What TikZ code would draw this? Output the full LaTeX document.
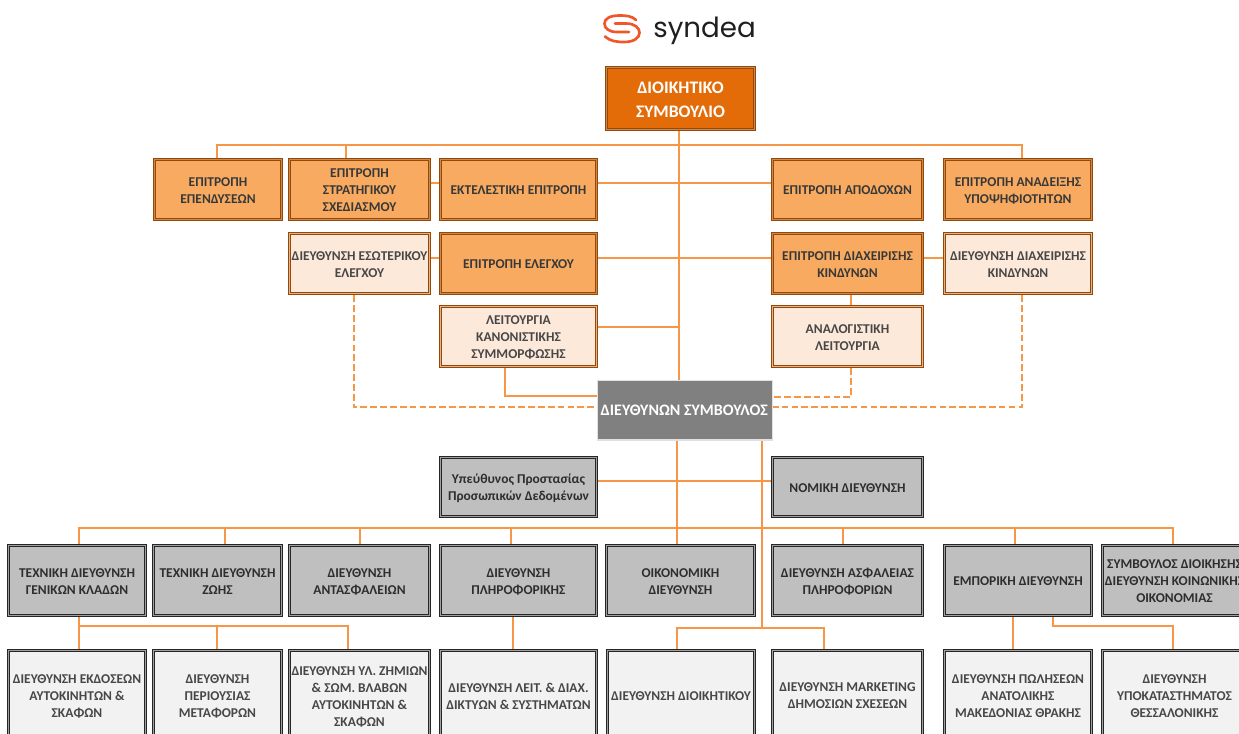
\documentclass[tikz,border=0pt]{standalone}
\usepackage{fontspec}
\setmainfont{Carlito}
\newfontfamily\logofont{Poppins}
\definecolor{conn}{HTML}{F79646}
\definecolor{boardfill}{HTML}{E36C09}
\definecolor{commfill}{HTML}{F8AB60}
\definecolor{lightfill}{HTML}{FDE9D9}
\definecolor{brownb}{HTML}{984806}
\definecolor{brownm}{HTML}{C98A50}
\definecolor{brownl}{HTML}{E0B48C}
\definecolor{grayfill}{HTML}{BFBFBF}
\definecolor{palefill}{HTML}{F2F2F2}
\definecolor{darkb}{HTML}{262626}
\definecolor{darkm}{HTML}{A0A0A0}
\definecolor{ceofill}{HTML}{808080}
\definecolor{logoor}{HTML}{F0562A}
\pgfdeclarelayer{under}
\pgfsetlayers{under,main}
\tikzset{
  x=0.75pt,y=-0.75pt,
  boxbase/.style={rectangle,inner sep=0pt,align=center,font=\fontsize{10.1}{12.75}\selectfont\bfseries},
  comm/.style={boxbase,text=black!78},
  comm o/.style={fill=brownb}, comm m/.style={fill=brownm}, comm i/.style={fill=commfill},
  lite/.style={boxbase,text=black!72},
  lite o/.style={fill=brownb}, lite m/.style={fill=brownl}, lite i/.style={fill=lightfill},
  grayb/.style={boxbase,text=black!82},
  grayb o/.style={fill=darkb}, grayb m/.style={fill=darkm}, grayb i/.style={fill=grayfill},
  pale/.style={boxbase,text=black!72},
  pale o/.style={fill=darkb}, pale m/.style={fill=darkm}, pale i/.style={fill=palefill},
  boardb/.style={boxbase,text=white,font=\fontsize{13.2}{18}\selectfont\bfseries},
  boardb o/.style={fill=brownb}, boardb m/.style={fill=brownm}, boardb i/.style={fill=boardfill},
  ceob/.style={rectangle,inner sep=0pt,align=center,text=white,font=\fontsize{12}{13}\selectfont\bfseries},
  link/.style={draw=conn,line width=1.3pt,line cap=rect},
  dlink/.style={draw=conn,line width=1.3pt,dash pattern=on 5pt off 2.4pt},
}
% style, name, x1, y1, x2, y2, text: three nested fills form the double border
\newcommand{\bx}[7]{%
  \fill[#1 o] ({#3-1},{#4-1}) rectangle ({#5+1},{#6+1});
  \fill[#1 m] ({#3},{#4}) rectangle ({#5},{#6});
  \fill[#1 o] ({#3+0.8},{#4+0.8}) rectangle ({#5-0.8},{#6-0.8});
  \fill[#1 i] ({#3+1.8},{#4+1.8}) rectangle ({#5-1.8},{#6-1.8});
  \node[#1,minimum width={(#5-#3)*0.75pt},minimum height={(#6-#4)*0.75pt}] (#2) at ({(#3+#5)/2},{(#4+#6)/2+1}) {#7};}
\begin{document}
\begin{tikzpicture}
\useasboundingbox (0,0) rectangle (1239,734);
\clip (0,0) rectangle (1239,734);
% named routing coordinates
\coordinate (trunk) at (679,0);
\coordinate (ceoL) at (677.3,0);
\coordinate (ceoR) at (761.7,0);
\coordinate (topbus) at (0,145);
\coordinate (lowbus) at (0,527.7);
\coordinate (busB) at (0,628);
\coordinate (xa) at (217,0);
\coordinate (xb) at (345.7,0);
\coordinate (xc) at (1021.7,0);
\coordinate (xd) at (354,0);
\coordinate (xe) at (505,0);
\coordinate (xf) at (851.2,0);
\coordinate (yf) at (0,396.7);
\coordinate (yd) at (0,407.3);
\coordinate (ye) at (0,395.7);
\coordinate (y1) at (0,183.2);
\coordinate (y2) at (0,258);
\coordinate (y3) at (0,327);
\coordinate (y4) at (0,481);
% boxes
\bx{boardb}{board}{606}{67}{755}{130}{ΔΙΟΙΚΗΤΙΚΟ\\ΣΥΜΒΟΥΛΙΟ}
\bx{comm}{inv}{154}{159}{282}{220}{ΕΠΙΤΡΟΠΗ\\ΕΠΕΝΔΥΣΕΩΝ}
\bx{comm}{strat}{289}{159}{430}{220}{ΕΠΙΤΡΟΠΗ\\ΣΤΡΑΤΗΓΙΚΟΥ\\ΣΧΕΔΙΑΣΜΟΥ}
\bx{comm}{exec}{440}{159}{597}{220}{ΕΚΤΕΛΕΣΤΙΚΗ ΕΠΙΤΡΟΠΗ}
\bx{comm}{pay}{772}{159}{923}{220}{ΕΠΙΤΡΟΠΗ ΑΠΟΔΟΧΩΝ}
\bx{comm}{nom}{944}{159}{1092}{220}{ΕΠΙΤΡΟΠΗ ΑΝΑΔΕΙΞΗΣ\\ΥΠΟΨΗΦΙΟΤΗΤΩΝ}
\bx{lite}{iaudit}{289}{233}{430}{294}{ΔΙΕΥΘΥΝΣΗ ΕΣΩΤΕΡΙΚΟΥ\\ΕΛΕΓΧΟΥ}
\bx{comm}{audit}{440}{233}{597}{294}{ΕΠΙΤΡΟΠΗ ΕΛΕΓΧΟΥ}
\bx{comm}{risk}{772}{233}{923}{294}{ΕΠΙΤΡΟΠΗ ΔΙΑΧΕΙΡΙΣΗΣ\\ΚΙΝΔΥΝΩΝ}
\bx{lite}{riskd}{944}{233}{1092}{294}{ΔΙΕΥΘΥΝΣΗ ΔΙΑΧΕΙΡΙΣΗΣ\\ΚΙΝΔΥΝΩΝ}
\bx{lite}{compl}{440}{306}{597}{367}{ΛΕΙΤΟΥΡΓΙΑ\\ΚΑΝΟΝΙΣΤΙΚΗΣ\\ΣΥΜΜΟΡΦΩΣΗΣ}
\bx{lite}{actu}{772}{306}{923}{367}{ΑΝΑΛΟΓΙΣΤΙΚΗ\\ΛΕΙΤΟΥΡΓΙΑ}
\fill[black!12] (596.5,379.5) rectangle (773,440.5);
\fill[ceofill] (598,381) rectangle (771.5,439);
\node[ceob,minimum width={174*0.75pt},minimum height={58*0.75pt}] (ceo) at (684.3,410.5) {ΔΙΕΥΘΥΝΩΝ ΣΥΜΒΟΥΛΟΣ};
\bx{grayb}{dpo}{440}{457}{597}{517}{Υπεύθυνος Προστασίας\\Προσωπικών Δεδομένων}
\bx{grayb}{legal}{772}{457}{923}{517}{ΝΟΜΙΚΗ ΔΙΕΥΘΥΝΣΗ}
% third level
\bx{grayb}{gen}{8}{545}{146}{616}{ΤΕΧΝΙΚΗ ΔΙΕΥΘΥΝΣΗ\\ΓΕΝΙΚΩΝ ΚΛΑΔΩΝ}
\bx{grayb}{life}{153}{545}{282}{616}{ΤΕΧΝΙΚΗ ΔΙΕΥΘΥΝΣΗ\\ΖΩΗΣ}
\bx{grayb}{reins}{289}{545}{430}{616}{ΔΙΕΥΘΥΝΣΗ\\ΑΝΤΑΣΦΑΛΕΙΩΝ}
\bx{grayb}{it}{440}{545}{597}{616}{ΔΙΕΥΘΥΝΣΗ\\ΠΛΗΡΟΦΟΡΙΚΗΣ}
\bx{grayb}{fin}{606}{545}{755}{616}{ΟΙΚΟΝΟΜΙΚΗ\\ΔΙΕΥΘΥΝΣΗ}
\bx{grayb}{sec}{772}{545}{923}{616}{ΔΙΕΥΘΥΝΣΗ ΑΣΦΑΛΕΙΑΣ\\ΠΛΗΡΟΦΟΡΙΩΝ}
\bx{grayb}{com}{944}{545}{1092}{616}{ΕΜΠΟΡΙΚΗ ΔΙΕΥΘΥΝΣΗ}
\bx{grayb}{adv}{1102}{545}{1247}{616}{ΣΥΜΒΟΥΛΟΣ ΔΙΟΙΚΗΣΗΣ\\ΔΙΕΥΘΥΝΣΗ ΚΟΙΝΩΝΙΚΗΣ\\ΟΙΚΟΝΟΜΙΑΣ}
% fourth level
\bx{pale}{auto}{8}{650}{146}{740}{ΔΙΕΥΘΥΝΣΗ ΕΚΔΟΣΕΩΝ\\ΑΥΤΟΚΙΝΗΤΩΝ \&\\ΣΚΑΦΩΝ}
\bx{pale}{prop}{153}{650}{282}{740}{ΔΙΕΥΘΥΝΣΗ\\ΠΕΡΙΟΥΣΙΑΣ\\ΜΕΤΑΦΟΡΩΝ}
\bx{pale}{claims}{289}{650}{430}{742}{ΔΙΕΥΘΥΝΣΗ ΥΛ. ΖΗΜΙΩΝ\\\& ΣΩΜ. ΒΛΑΒΩΝ\\ΑΥΤΟΚΙΝΗΤΩΝ \&\\ΣΚΑΦΩΝ}
\bx{pale}{net}{440}{650}{597}{740}{ΔΙΕΥΘΥΝΣΗ ΛΕΙΤ. \& ΔΙΑΧ.\\ΔΙΚΤΥΩΝ \& ΣΥΣΤΗΜΑΤΩΝ}
\bx{pale}{admin}{607}{650}{755}{740}{ΔΙΕΥΘΥΝΣΗ ΔΙΟΙΚΗΤΙΚΟΥ}
\bx{pale}{mkt}{772}{650}{923}{740}{ΔΙΕΥΘΥΝΣΗ MARKETING\\ΔΗΜΟΣΙΩΝ ΣΧΕΣΕΩΝ}
\bx{pale}{sales}{944}{650}{1092}{740}{ΔΙΕΥΘΥΝΣΗ ΠΩΛΗΣΕΩΝ\\ΑΝΑΤΟΛΙΚΗΣ\\ΜΑΚΕΔΟΝΙΑΣ ΘΡΑΚΗΣ}
\bx{pale}{branch}{1102}{650}{1247}{740}{ΔΙΕΥΘΥΝΣΗ\\ΥΠΟΚΑΤΑΣΤΗΜΑΤΟΣ\\ΘΕΣΣΑΛΟΝΙΚΗΣ}
% lower routing coordinates
\coordinate (x1) at (78.7,0);
\coordinate (x2) at (225,0);
\coordinate (x3) at (359.7,0);
\coordinate (x4) at (511,0);
\coordinate (x6) at (843,0);
\coordinate (x7) at (1015,0);
\coordinate (x8) at (1172.7,0);
\coordinate (x9) at (216.7,0);
\coordinate (x10) at (348,0);
\coordinate (x11) at (513,0);
\coordinate (x12) at (824,0);
\coordinate (x13) at (1013.2,0);
\coordinate (x14) at (1053,0);
\coordinate (ybl) at (0,625.7);
% connectors, beneath the boxes
\begin{pgfonlayer}{under}
\draw[link] (board.south -| trunk) -- (ceo.north -| trunk);
\draw[link] (inv.north -| xa) -- (topbus -| xa) -- (topbus -| xc) -- (nom.north -| xc);
\draw[link] (strat.north -| xb) -- (topbus -| xb);
\draw[link] (strat.east |- y1) -- (exec.west |- y1);
\draw[link] (exec.east |- y1) -- (pay.west |- y1);
\draw[link] (iaudit.east |- y2) -- (audit.west |- y2);
\draw[link] (audit.east |- y2) -- (risk.west |- y2);
\draw[link] (risk.east |- y2) -- (riskd.west |- y2);
\draw[link] (compl.east |- y3) -- (y3 -| trunk);
\draw[link] (risk.south -| xf) -- (actu.north -| xf);
\draw[link] (compl.south -| xe) -- (ye -| xe) -- (ceo.west |- ye);
\draw[dlink] (iaudit.south -| xd) -- (yd -| xd) -- (ceo.west |- yd);
\draw[dlink] (actu.south -| xf) -- (yf -| xf) -- (ceo.east |- yf);
\draw[dlink] (riskd.south -| xc) -- (yd -| xc) -- (ceo.east |- yd);
\draw[link] (ceo.south -| ceoL) -- (fin.north -| ceoL);
\draw[link] (ceo.south -| ceoR) -- (busB -| ceoR);
\draw[link] (dpo.east |- y4) -- (legal.west |- y4);
\draw[link] (gen.north -| x1) -- (lowbus -| x1) -- (lowbus -| x8) -- (adv.north -| x8);
\foreach \n/\c in {life/x2,reins/x3,it/x4,sec/x6,com/x7}{
  \draw[link] (\n.north -| \c) -- (lowbus -| \c);
}
\draw[link] (gen.south -| x1) -- (auto.north -| x1);
\draw[link] (ybl -| x1) -- (ybl -| x10) -- (claims.north -| x10);
\draw[link] (ybl -| x9) -- (prop.north -| x9);
\draw[link] (it.south -| x11) -- (net.north -| x11);
\draw[link] (admin.north -| ceoL) -- (busB -| ceoL) -- (busB -| x12) -- (mkt.north -| x12);
\draw[link] (com.south -| x13) -- (sales.north -| x13);
\draw[link] (com.south -| x14) -- (ybl -| x14) -- (ybl -| x8) -- (branch.north -| x8);
\end{pgfonlayer}
% logo
\draw[logoor,line width=2pt,line cap=round,line join=round]
  (636,20) .. controls (632,16) and (626,15.5) .. (620,15.5)
  .. controls (609,15.5) and (604.5,19) .. (604.5,23.7)
  .. controls (604.5,28.5) and (609,32) .. (617,32) -- (629,32);
\draw[logoor,line width=2pt,line cap=round,line join=round]
  (615,23.5) -- (626,23.5)
  .. controls (635,23.5) and (639.5,28) .. (639.5,32.7)
  .. controls (639.5,38) and (634,42) .. (624,42)
  .. controls (616,42) and (610,41) .. (605,36.5);
\node[anchor=base west,inner sep=0pt,text=black!88,font=\logofont\fontsize{20.8}{22}\selectfont] (logo) at (653,38) {syndea};
\end{tikzpicture}
\end{document}
